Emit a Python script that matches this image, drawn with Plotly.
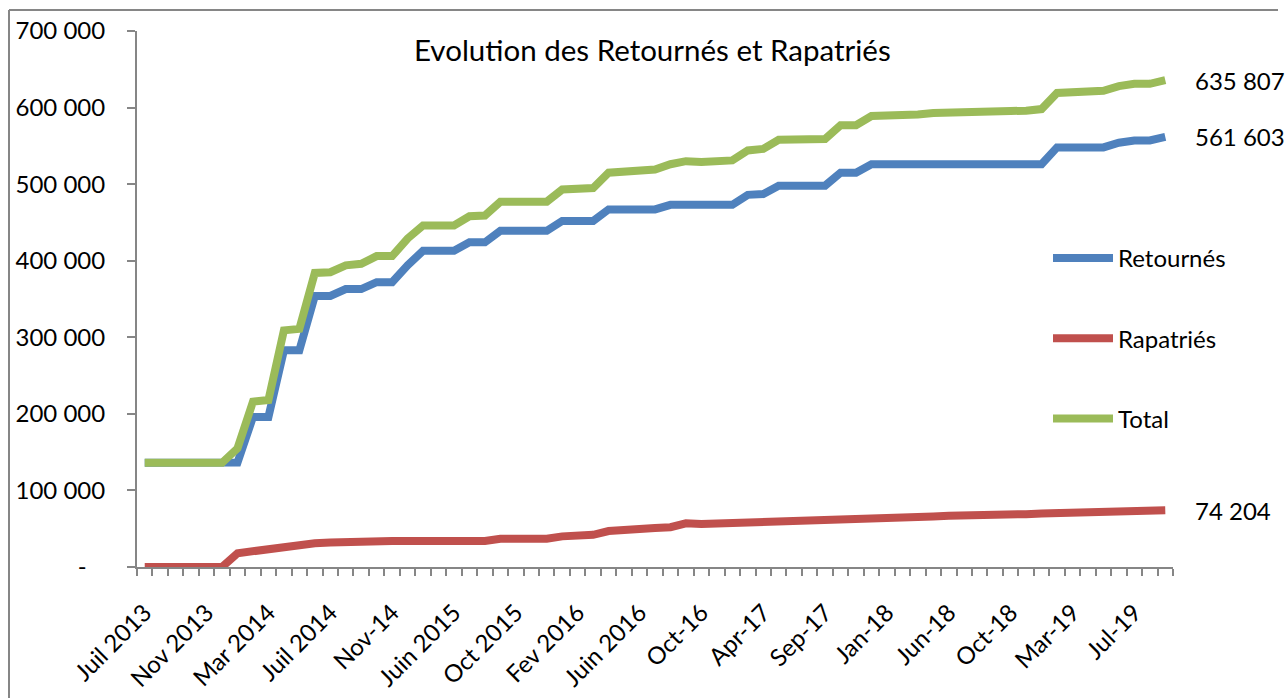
import plotly.graph_objects as go

# ---- data ----
tick_labels = ["Juil 2013", "Nov 2013", "Mar 2014", "Juil 2014", "Nov-14", "Juin 2015",
               "Oct 2015", "Fev 2016", "Juin 2016", "Oct-16", "Apr-17", "Sep-17",
               "Jan-18", "Jun-18", "Oct-18", "Mar-19", "Jul-19"]
label_step = 4

retournes = [136000, 136000, 136000, 136000, 136000, 136000, 136500, 196000, 196000, 283000,
             283000, 354000, 354000, 363000, 363000, 372000, 372000, 394000, 413000, 413000,
             413000, 424000, 424000, 439000, 439000, 439000, 439000, 452000, 452000, 452000,
             467000, 467000, 467000, 467000, 473000, 473000, 473000, 473000, 473000, 486000,
             487000, 498000, 498000, 498000, 498000, 515000, 515000, 526000, 526000, 526000,
             526000, 526000, 526000, 526000, 526000, 526000, 526000, 526000, 526000, 548000,
             548000, 548000, 548000, 554000, 557000, 557000, 561603]

rapatries = [0, 0, 0, 0, 0, 0, 18000, 21000, 24000, 27000,
             29000, 31000, 32000, 33000, 34000, 34000, 34000, 34000, 34000, 34000,
             34000, 34000, 34000, 37000, 37000, 37000, 37000, 40000, 40000, 42000,
             47000, 49000, 50000, 51000, 52000, 57000, 56000, 56500, 57000, 57500,
             58500, 60000, 60000, 60500, 61000, 61500, 62000, 63000, 63000, 64000,
             64500, 66000, 67000, 67000, 68000, 68000, 68500, 69000, 70000, 70500,
             71000, 72500, 73500, 74000, 74000, 74000, 74204]

total = [136000, 136000, 136000, 136000, 136000, 136000, 155000, 216000, 218000, 309000,
         311000, 384000, 385000, 394000, 396000, 406000, 406000, 429000, 446000, 446000,
         446000, 458000, 459000, 477000, 477000, 477000, 477000, 493000, 493000, 495000,
         515000, 517000, 518000, 519000, 526000, 530000, 529000, 530000, 531000, 544000,
         546000, 558000, 558000, 558000, 559000, 577000, 577000, 589000, 589000, 590000,
         591000, 593000, 593000, 594000, 595000, 595000, 595500, 596000, 598000, 619000,
         620000, 621000, 622000, 628000, 631000, 631000, 635807]

y_ticks = [0, 100000, 200000, 300000, 400000, 500000, 600000, 700000]

series = [("Retournés", retournes, "#4F81BD"),
          ("Rapatriés", rapatries, "#C0504D"),
          ("Total", total, "#9BBB59")]

FONT = "Lato"
GRAY = "#868686"
FS = 24

def fmt(v):
    return f"{v:,}".replace(",", " ")

n = len(total)
xs = list(range(n))

fig = go.Figure()
for i, (name, vals, col) in enumerate(series):
    fig.add_trace(go.Scatter(x=xs, y=vals, name=name, mode="lines",
                             line=dict(color=col, width=8), legendgroup=f"g{i}",
                             hoverinfo="skip"))

# end-of-line value labels
for name, vals, col in series:
    fig.add_annotation(x=xs[-1], y=vals[-1], text=fmt(vals[-1]), showarrow=False,
                       xanchor="left", yanchor="middle", xshift=28,
                       font=dict(family=FONT, size=FS, color="black"))

# plot-area geometry (pixels)
L, T, PW, PH = 137, 31, 1036, 536
def px(xp): return (xp - L) / PW
def py(yp): return (T + PH - yp) / PH

# title
fig.add_annotation(xref="paper", yref="paper", x=px(652), y=py(50),
                   text="Evolution des Retournés et Rapatriés", showarrow=False,
                   xanchor="center", yanchor="middle",
                   font=dict(family=FONT, size=29.5, color="black"))

# outer chart frame (left and top edges visible)
fig.add_shape(type="line", xref="paper", yref="paper", x0=px(9), x1=px(9),
              y0=py(10), y1=py(700), line=dict(color=GRAY, width=2))
fig.add_shape(type="line", xref="paper", yref="paper", x0=px(9), x1=px(1278),
              y0=py(10), y1=py(10), line=dict(color=GRAY, width=2))

fig.update_layout(
    width=1287, height=698, autosize=False,
    margin=dict(l=L, r=1287 - L - PW, t=T, b=698 - T - PH, autoexpand=False),
    plot_bgcolor="white", paper_bgcolor="white",
    font=dict(family=FONT, size=FS, color="black"),
    showlegend=True,
    legend=dict(x=px(1048), y=py(236), xanchor="left", yanchor="top",
                bgcolor="rgba(0,0,0,0)", traceorder="grouped", tracegroupgap=46,
                font=dict(family=FONT, size=FS, color="black"), itemwidth=60),
    xaxis=dict(range=[-0.5, n - 0.5], showgrid=False, zeroline=False,
               showline=True, linecolor=GRAY, linewidth=2, automargin=False,
               tickmode="array", tickvals=xs[::label_step][:len(tick_labels)],
               ticktext=tick_labels, tickangle=-45, ticks="",
               ticklabelstandoff=20,
               tickfont=dict(family=FONT, size=FS, color="black"),
               minor=dict(tickmode="linear", tick0=-0.5, dtick=1, ticks="outside",
                          ticklen=7, tickcolor=GRAY, tickwidth=2, showgrid=False)),
    yaxis=dict(range=[0, 700000], showgrid=False, zeroline=False,
               showline=True, linecolor=GRAY, linewidth=2, automargin=False,
               tickmode="array", tickvals=y_ticks,
               ticktext=["-\u00a0\u00a0\u00a0"] + [fmt(v) for v in y_ticks[1:]],
               ticks="outside", ticklen=8, tickcolor=GRAY, tickwidth=2,
               ticklabelstandoff=17,
               tickfont=dict(family=FONT, size=FS, color="black")),
)

fig.write_html("out.html", config={"displayModeBar": False},
               post_script="document.body.style.margin='0';document.body.style.overflow='hidden';")
